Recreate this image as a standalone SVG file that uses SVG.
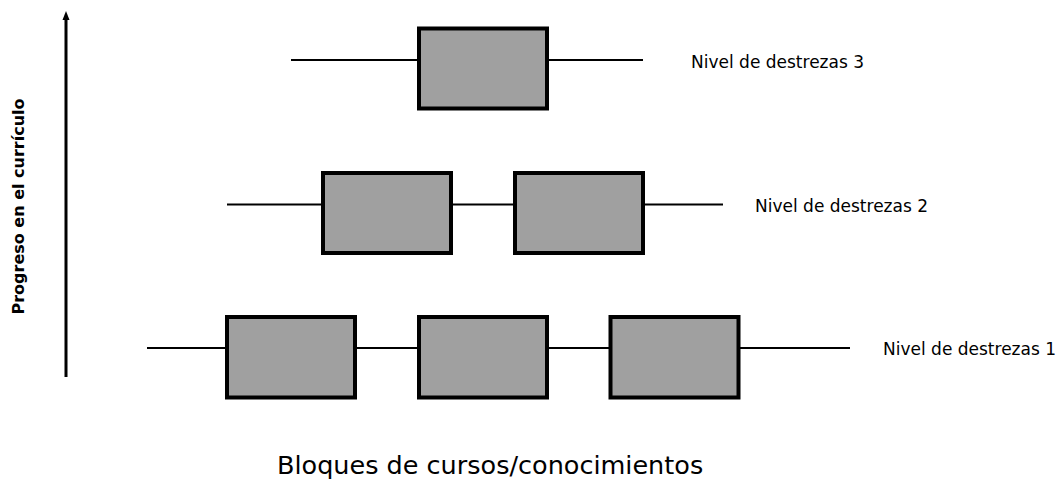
<svg xmlns="http://www.w3.org/2000/svg" width="1058" height="479" viewBox="0 0 1058 479">
<style>
.box{fill:#a0a0a0;stroke:#000;stroke-width:4}
.ln{stroke:#000;stroke-width:2;fill:none}
.lbl{font-family:"DejaVu Sans",Verdana,sans-serif;font-size:17px;fill:#000}
.ax{font-family:"DejaVu Sans",Verdana,sans-serif;font-size:16px;font-weight:bold;fill:#000}
.bt{font-family:"DejaVu Sans",Verdana,sans-serif;font-size:25.5px;fill:#000}
</style>
<rect width="1058" height="479" fill="#fff"/>
<g id="axis">
<line x1="66" y1="377" x2="66" y2="20" stroke="#000" stroke-width="3"/>
<path d="M62.5,20 L66,11 L69.5,20 Z" fill="#000"/>
<text class="ax" transform="translate(24,206.5) rotate(-90)" text-anchor="middle">Progreso en el currículo</text>
</g>
<g id="connectors">
<line class="ln" x1="291" y1="60" x2="419" y2="60"/>
<line class="ln" x1="547" y1="60" x2="643" y2="60"/>
<line class="ln" x1="227" y1="204.5" x2="323" y2="204.5"/>
<line class="ln" x1="451" y1="204.5" x2="515" y2="204.5"/>
<line class="ln" x1="643" y1="204.5" x2="723" y2="204.5"/>
<line class="ln" x1="147" y1="348" x2="227" y2="348"/>
<line class="ln" x1="355" y1="348" x2="419" y2="348"/>
<line class="ln" x1="547" y1="348" x2="610.5" y2="348"/>
<line class="ln" x1="738.5" y1="348" x2="850" y2="348"/>
</g>
<g id="n3a"><rect class="box" x="419" y="28.5" width="128" height="80"/></g>
<g id="n2a"><rect class="box" x="323" y="173" width="128" height="80"/></g>
<g id="n2b"><rect class="box" x="515" y="173" width="128" height="80"/></g>
<g id="n1a"><rect class="box" x="227" y="317" width="128" height="80.5"/></g>
<g id="n1b"><rect class="box" x="419" y="317" width="128" height="80.5"/></g>
<g id="n1c"><rect class="box" x="610.5" y="317" width="128" height="80.5"/></g>
<g id="labels">
<text class="lbl" x="691" y="68">Nivel de destrezas 3</text>
<text class="lbl" x="755" y="211.5">Nivel de destrezas 2</text>
<text class="lbl" x="883" y="355">Nivel de destrezas 1</text>
<text class="bt" x="277" y="474">Bloques de cursos/conocimientos</text>
</g>
</svg>
